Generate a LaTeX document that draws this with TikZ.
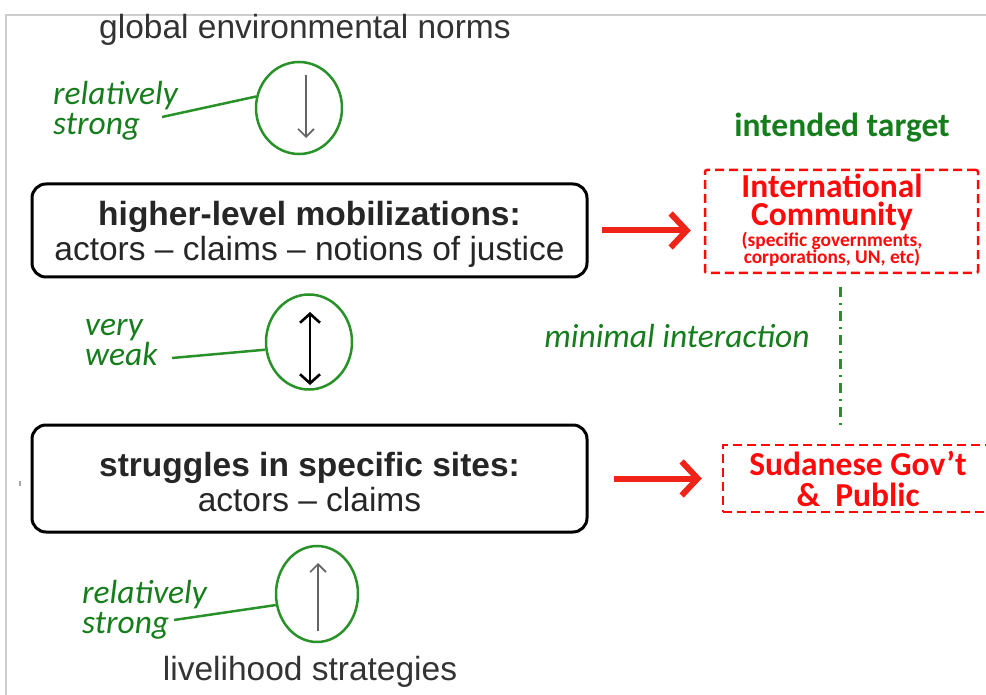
\documentclass[tikz,border=0pt]{standalone}
\usepackage{fontspec}
\setmainfont{Liberation Sans}
\newfontfamily\calfont{Carlito}
\usetikzlibrary{arrows.meta,shapes.geometric}
\definecolor{gtext}{RGB}{22,125,28}
\definecolor{gline}{RGB}{40,145,40}
\definecolor{rtext}{RGB}{255,10,10}
\definecolor{rarrow}{RGB}{240,35,25}
\definecolor{framegray}{RGB}{205,205,205}
\definecolor{thinarrow}{RGB}{100,100,100}
\tikzset{
  big/.style={font=\fontsize{33.5}{35}\selectfont},
  levelbox/.style={draw=black, line width=3pt, rounded corners=14pt,
    minimum width=555pt, align=center, big, text=black!85},
  strength/.style={draw=gline, line width=2.5pt, ellipse, inner sep=0pt},
  strengthlabel/.style={font=\calfont\itshape\fontsize{33.5}{30}\selectfont,
    text=gtext, align=left, anchor=west, inner sep=0pt},
  tie/.style={draw=gline, line width=2.5pt},
  targetbox/.style={draw=rtext, line width=2.5pt, dash pattern=on 9pt off 5pt,
    rounded corners=2pt, align=center, text=rtext,
    font=\calfont\bfseries\fontsize{33.5}{31}\selectfont},
  redbig/.style={text=rtext, inner sep=0pt, text height=22pt, text depth=7pt,
    font=\calfont\bfseries\fontsize{33.5}{31}\selectfont},
  redsmall/.style={text=rtext, inner sep=0pt, text height=12pt, text depth=4pt,
    font=\calfont\bfseries\fontsize{19.4}{17}\selectfont},
  bigarrow/.style={draw=rarrow, line width=6pt,
    -{Straight Barb[length=16pt,width=34pt,line width=6pt]}},
  flowarrow/.style={draw=thinarrow, line width=1.6pt,
    -{Straight Barb[length=8pt,width=16pt]}},
}
\begin{document}
\begin{tikzpicture}[x=1pt,y=-1pt]
\useasboundingbox (0,0) rectangle (986,695);
% page frame
\draw[framegray, line width=1.5pt] (6,695) -- (6,15) -- (986,15);
\fill[gray!70] (19,481) rectangle (21,486);

% outer levels
\node[big, text=black!80] (norms) at (305,30) {global environmental norms};
\node[big, text=black!80] (liveli) at (310,672) {livelihood strategies};

% the two mobilization levels
\node[levelbox, minimum height=93pt] (higher) at (309.5,230.5)
  {\rule{0pt}{32pt}\textbf{higher-level mobilizations:}\\actors -- claims -- notions of justice};
\node[levelbox, minimum height=107pt] (sites) at (309.5,478.5)
  {\rule{0pt}{32pt}\textbf{struggles in specific sites:}\\actors -- claims};

% strength of links between levels
\node[strength, minimum width=86pt, minimum height=92pt] (e1) at (299,108) {};
\node[strength, minimum width=86pt, minimum height=95pt] (e2) at (309,342) {};
\node[strength, minimum width=82pt, minimum height=96pt] (e3) at (317,594) {};

\coordinate (a1s) at (306,75);  \coordinate (a1e) at (306,138);
\coordinate (a2s) at (310,312); \coordinate (a2e) at (310,385);
\coordinate (a3s) at (318,631); \coordinate (a3e) at (318,563);
\draw[flowarrow] (a1s) -- (a1e);
\draw[flowarrow, draw=black, line width=2.6pt,
  {Straight Barb[length=9pt,width=20pt]}-{Straight Barb[length=9pt,width=20pt]}] (a2s) -- (a2e);
\draw[flowarrow] (a3s) -- (a3e);

\node[strengthlabel] (s1) at (53,111) {relatively\\strong};
\node[strengthlabel] (s2) at (85,343) {very\\weak};
\node[strengthlabel] (s3) at (82,610) {relatively\\strong};
\coordinate (t1) at (162,117);
\coordinate (t2) at (172,358);
\coordinate (t3) at (174,620);
\draw[tie] (t1) -- (e1.165);
\draw[tie] (t2) -- (e2.190);
\draw[tie] (t3) -- (e3.195);

% intended targets
\node[font=\calfont\bfseries\fontsize{33.5}{35}\selectfont, text=gtext] (target) at (842,128) {intended target};
\node[targetbox, minimum width=273pt, minimum height=103pt] (intl) at (841.5,221.5) {};
\node[redbig] (intl1) at (832,190) {International};
\node[redbig] (intl2) at (832,218) {Community};
\node[redsmall] (intl3) at (832,243) {(specific governments,};
\node[redsmall] (intl4) at (832,260) {corporations, UN, etc)};
\node[targetbox, minimum width=270pt, minimum height=67pt, rounded corners=0pt] (sudan) at (858,478.5)
  {Sudanese Gov’t\\\&\ \ Public};

\draw[bigarrow, shorten <=13pt, shorten >=13pt] (higher.east) -- (higher.east -| intl.west);
\draw[bigarrow, shorten <=25pt, shorten >=20pt] (sites.east |- sudan.west) -- (sudan.west);

\coordinate (ib) at (840,273);
\coordinate (sb) at (840,445);
\draw[gline, line width=3pt, dash pattern=on 10pt off 6pt on 2pt off 6pt,
  shorten <=14pt, shorten >=20pt] (ib) -- (sb);
\node[font=\calfont\itshape\fontsize{33.5}{35}\selectfont, text=gtext] (minimal) at (677,336) {minimal interaction};
\end{tikzpicture}
\end{document}
